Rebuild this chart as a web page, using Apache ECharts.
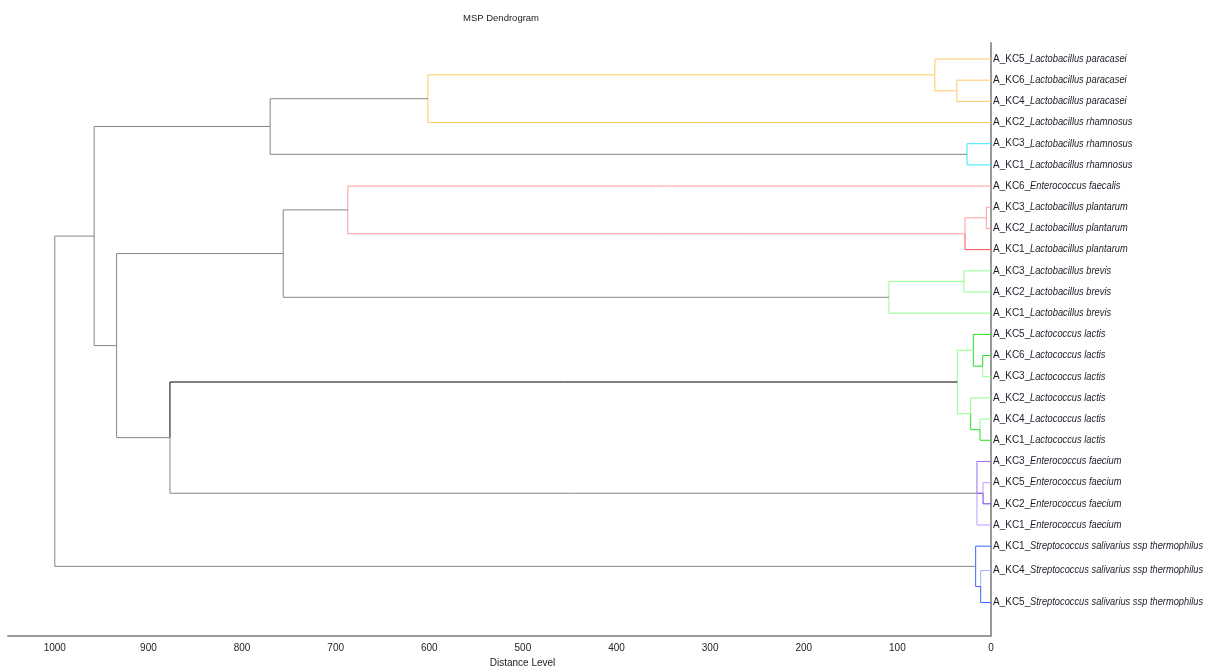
<!DOCTYPE html>
<html>
<head>
<meta charset="utf-8">
<title>MSP Dendrogram</title>
<script src="https://cdn.jsdelivr.net/npm/echarts@6/dist/echarts.min.js"></script>
<style>
  html, body { margin: 0; padding: 0; background: #fff; }
  #chart { width: 1210px; height: 666px; }
</style>
</head>
<body>
<div id="chart"></div>
<script>
// ---- Leaves (top to bottom) ----
const strains = [
  'A_KC5_', 'A_KC6_', 'A_KC4_', 'A_KC2_', 'A_KC3_', 'A_KC1_',
  'A_KC6_', 'A_KC3_', 'A_KC2_', 'A_KC1_',
  'A_KC3_', 'A_KC2_', 'A_KC1_',
  'A_KC5_', 'A_KC6_', 'A_KC3_', 'A_KC2_', 'A_KC4_', 'A_KC1_',
  'A_KC3_', 'A_KC5_', 'A_KC2_', 'A_KC1_',
  'A_KC1_', 'A_KC4_', 'A_KC5_'
];
const species = [
  'Lactobacillus paracasei', 'Lactobacillus paracasei', 'Lactobacillus paracasei',
  'Lactobacillus rhamnosus', 'Lactobacillus rhamnosus', 'Lactobacillus rhamnosus',
  'Enterococcus faecalis',
  'Lactobacillus plantarum', 'Lactobacillus plantarum', 'Lactobacillus plantarum',
  'Lactobacillus brevis', 'Lactobacillus brevis', 'Lactobacillus brevis',
  'Lactococcus lactis', 'Lactococcus lactis', 'Lactococcus lactis',
  'Lactococcus lactis', 'Lactococcus lactis', 'Lactococcus lactis',
  'Enterococcus faecium', 'Enterococcus faecium', 'Enterococcus faecium', 'Enterococcus faecium',
  'Streptococcus salivarius ssp thermophilus',
  'Streptococcus salivarius ssp thermophilus',
  'Streptococcus salivarius ssp thermophilus'
];
// Row of each leaf on the vertical scale
const leafRow = [0, 1, 2, 3, 4, 5, 6, 7, 8, 9, 10, 11, 12, 13, 14, 15, 16, 17, 18, 19, 20, 21, 22,
                 23, 24.15, 25.66];

// ---- Merges: node id = leaves.length + index ----
const mergeChildren = [
  [1, 2], [0, 26], [27, 3], [4, 5], [28, 29],          // 26..30
  [7, 8], [31, 9], [6, 32], [10, 11], [34, 12], [33, 35], // 31..36
  [14, 15], [13, 37], [17, 18], [16, 39], [38, 40],     // 37..41
  [20, 21], [19, 42, 22], [24, 25], [23, 44],           // 42..45
  [41, 43], [36, 46], [30, 47], [48, 45]                // 46..49
];
const mergeHeight = [
  36.5, 60, 601.5, 25.6, 770,
  5, 27.8, 687, 29, 109, 756,
  8.9, 18.9, 11.75, 21.7, 36,
  8.5, 15, 11, 16.4,
  877, 934, 958, 1000
];

// Axis ticks
const distanceTicks = [0, 100, 200, 300, 400, 500, 600, 700, 800, 900, 1000];

// ---- Branch styling ----
const palette = {
  orange: '#FFC864', cyan: '#33E6FF',
  redLight: '#FF9C9C', red: '#FF4C4C',
  greenLight: '#8CFF8C', green: '#22E022',
  purpleLight: '#BB9AFF', purple: '#9C6CF2', purpleDark: '#7536DE',
  blueLight: '#9CB2FF', blue: '#3A66FF',
  gray: '#858585', black: '#000000'
};
// colour of the branch running from each node up to its parent
const branchTone = [
  'orange', 'orange', 'orange', 'orange', 'cyan', 'cyan',
  'redLight', 'redLight', 'redLight', 'red',
  'greenLight', 'greenLight', 'greenLight',
  'green', 'green', 'greenLight', 'greenLight', 'greenLight', 'green',
  'purple', 'purpleLight', 'purpleDark', 'purpleLight',
  'blue', 'blueLight', 'blue',
  'orange', 'orange', 'gray', 'gray', 'gray',
  'redLight', 'redLight', 'gray', 'greenLight', 'gray', 'gray',
  'green', 'greenLight', 'green', 'greenLight', 'black',
  'purpleDark', 'gray', 'blue', 'gray',
  'gray', 'gray', 'gray'
];

// ---- Build node positions ----
const nLeaf = strains.length;
const nodeH = [], nodeY = [];
for (let i = 0; i < nLeaf; i++) { nodeH[i] = 0; nodeY[i] = leafRow[i]; }
mergeChildren.forEach((kids, k) => {
  const id = nLeaf + k;
  nodeH[id] = mergeHeight[k];
  nodeY[id] = kids.reduce((s, c) => s + nodeY[c], 0) / kids.length;
});

const series = [];
mergeChildren.forEach((kids, k) => {
  const id = nLeaf + k;
  kids.forEach(c => {
    series.push({
      type: 'line',
      silent: true,
      symbol: 'none',
      animation: false,
      z: branchTone[c] === 'gray' || branchTone[c] === 'black' ? 3 : 2,
      lineStyle: { color: palette[branchTone[c]], width: 1 },
      data: [[nodeH[c], nodeY[c]], [nodeH[id], nodeY[c]], [nodeH[id], nodeY[id]]]
    });
  });
});

// Leaf labels: strain prefix in upright type, species name in italics
const labelFont = 'Liberation Sans';
series.push({
  type: 'custom',
  silent: true,
  animation: false,
  clip: false,
  z: 5,
  data: strains.map((s, i) => [0, leafRow[i], i]),
  renderItem: (params, api) => {
    const pt = api.coord([api.value(0), api.value(1)]);
    const i = api.value(2);
    return {
      type: 'group',
      children: [
        {
          type: 'text',
          x: pt[0] + 2, y: pt[1],
          style: {
            text: strains[i], fill: '#1c1c28',
            font: '10px "' + labelFont + '"',
            verticalAlign: 'middle', align: 'left'
          }
        },
        {
          type: 'text',
          x: pt[0] + 39, y: pt[1],
          scaleX: 0.93,
          style: {
            text: species[i], fill: '#1c1c28',
            font: 'italic 10px "' + labelFont + '"',
            verticalAlign: 'middle', align: 'left'
          }
        }
      ]
    };
  }
});

const chart = echarts.init(document.getElementById('chart'), null, { renderer: 'canvas' });
chart.setOption({
  backgroundColor: '#ffffff',
  animation: false,
  title: {
    text: 'MSP Dendrogram',
    left: 458, top: 8,
    textStyle: { fontFamily: labelFont, fontSize: 9.5, fontWeight: 'normal', color: '#222' }
  },
  grid: { left: 8, right: 219, top: 43, bottom: 30, containLabel: false, outerBoundsMode: 'none' },
  xAxis: {
    type: 'value',
    inverse: true,
    min: 0, max: 1050, interval: 100,
    name: 'Distance Level',
    nameLocation: 'middle',
    nameGap: 19,
    nameTextStyle: { fontFamily: labelFont, fontSize: 10, color: '#222', padding: [0, 0, 0, 46] },
    axisLine: { show: true, onZero: false, lineStyle: { color: '#9a9a9a', width: 2 } },
    axisTick: { show: false },
    splitLine: { show: false },
    axisLabel: {
      fontFamily: labelFont, fontSize: 10, color: '#222', margin: 7,
      showMaxLabel: false,
      formatter: v => distanceTicks.includes(v) ? String(v) : ''
    }
  },
  yAxis: {
    type: 'value',
    inverse: true,
    position: 'right',
    min: -0.755, max: 27.24,
    axisLine: { show: true, onZero: false, lineStyle: { color: '#9a9a9a', width: 2 } },
    axisTick: { show: false },
    axisLabel: { show: false },
    splitLine: { show: false }
  },
  series: series
});
</script>
</body>
</html>
